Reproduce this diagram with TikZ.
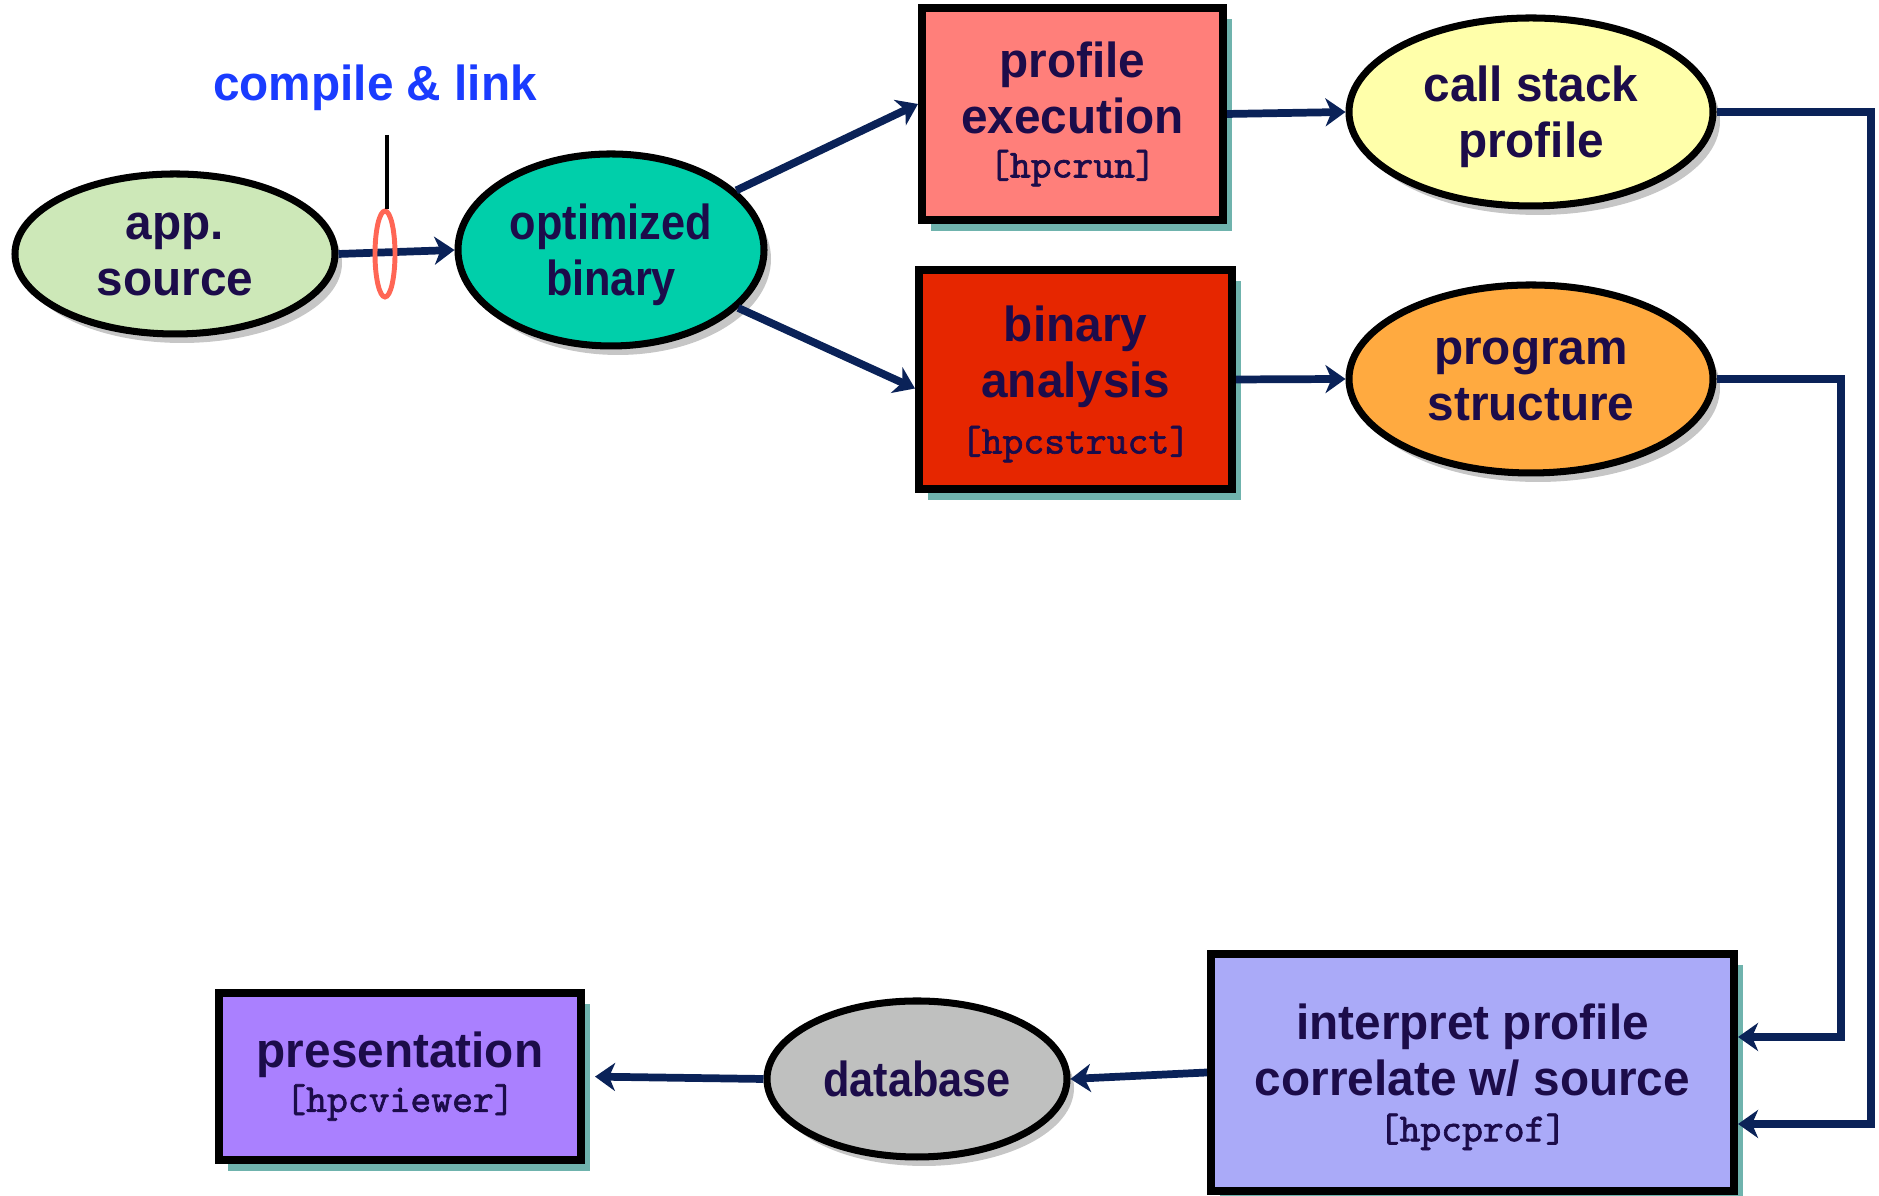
\documentclass[tikz,border=0pt]{standalone}
\usepackage{fontspec}
\setmainfont{Liberation Sans}[FakeStretch=0.97]
\newfontfamily\narrowsans{Liberation Sans}[FakeStretch=0.88]
\setmonofont{lmmono10-regular.otf}[FakeBold=1.6]
\usetikzlibrary{shapes.geometric,shadows,arrows.meta}

\definecolor{ink}{HTML}{1C0C4A}
\definecolor{navy}{HTML}{0A2258}
\definecolor{linkblue}{HTML}{1A3CFF}
\definecolor{ringred}{HTML}{FF6655}
\definecolor{shadowteal}{HTML}{3F9A92}
\definecolor{srcgreen}{HTML}{CDE8B8}
\definecolor{bingreen}{HTML}{00CFAA}
\definecolor{runpink}{HTML}{FF7F7A}
\definecolor{structred}{HTML}{E62600}
\definecolor{cspyellow}{HTML}{FFFFAA}
\definecolor{psorange}{HTML}{FFAA40}
\definecolor{profblue}{HTML}{AAAAF8}
\definecolor{dbgray}{HTML}{BFC0BF}
\definecolor{viewpurple}{HTML}{AA80FF}

\newcommand{\tool}[1]{{\fontsize{11.3}{12}\selectfont\ttfamily #1}}

\tikzset{
  boxtext/.style={font=\fontsize{14}{16}\selectfont\bfseries, text=ink, align=center},
  narrowtext/.style={font=\fontsize{14}{16}\selectfont\narrowsans\bfseries},
  oval/.style={ellipse, draw=black, line width=2pt, inner sep=0pt, boxtext, text depth=0pt,
    drop shadow={fill=black!50, opacity=.45, shadow xshift=0.07cm, shadow yshift=-0.09cm}},
  stage/.style={rectangle, draw=black, line width=2.3pt, inner sep=0pt, boxtext,
    drop shadow={fill=shadowteal, opacity=.75, shadow xshift=0.09cm, shadow yshift=-0.11cm}},
  flow/.style={-{Stealth[length=0.2cm, width=0.28cm, inset=0.06cm]}, navy, line width=2.2pt},
}

\begin{document}
\begin{tikzpicture}
  \useasboundingbox (0,0) rectangle (18.79,11.96);

  % top row
  \node[oval, fill=srcgreen, minimum width=3.2cm, minimum height=1.6cm] (src) at (1.75,9.42) {app.\\source};
  \node[oval, narrowtext, fill=bingreen, minimum width=3.06cm, minimum height=1.92cm] (opt) at (6.11,9.46) {optimized\\binary};
  \node[stage, fill=runpink, minimum width=3.01cm, minimum height=2.12cm] (run) at (10.725,10.82) {profile\\execution\\[-3.5pt]\tool{[hpcrun]}};
  \node[stage, text depth=0pt, fill=structred, minimum width=3.13cm, minimum height=2.19cm] (struct) at (10.755,8.165) {binary\\analysis\\[0pt]\tool{[hpcstruct]}};
  \node[oval, fill=cspyellow, minimum width=3.64cm, minimum height=1.88cm] (csp) at (15.31,10.84) {call stack\\profile};
  \node[oval, fill=psorange, minimum width=3.64cm, minimum height=1.88cm] (ps) at (15.31,8.17) {program\\structure};

  % bottom row
  \node[stage, text depth=0pt, fill=profblue, minimum width=5.23cm, minimum height=2.37cm] (prof) at (14.725,1.235) {interpret profile\\correlate w/ source\\[-3pt]\tool{[hpcprof]}};
  \node[oval, narrowtext, fill=dbgray, minimum width=3.0cm, minimum height=1.56cm] (db) at (9.17,1.17) {database};
  \node[stage, fill=viewpurple, minimum width=3.62cm, minimum height=1.67cm] (view) at (4.0,1.195) {presentation\\[-3.5pt]\tool{[hpcviewer]}};

  % compile & link marker
  \node[font=\fontsize{14}{16}\selectfont\bfseries, text=linkblue] (cl) at (3.75,11.08) {compile \& link};
  \draw[flow] (src.east) -- (opt.west);
  \node[ellipse, draw=ringred, line width=1.4pt, minimum width=0.2cm, minimum height=0.86cm, inner sep=0pt] (ring) at (3.85,9.42) {};
  \coordinate (tick) at (3.87,10.61);
  \draw[black, line width=0.9pt] (tick) -- (tick |- ring.north);

  \draw[flow] (opt) -- ([yshift=0.1cm]run.west);
  \draw[flow] (opt) -- ([yshift=-0.09cm]struct.west);
  \draw[flow] (run.east) -- (csp.west);
  \draw[flow] (struct.east) -- (ps.west);

  \coordinate (csdown) at (18.71,0.72);
  \coordinate (psdown) at (18.41,1.59);
  \draw[flow] (csp.east) -| (csdown) -- (prof.east |- csdown);
  \draw[flow] (ps.east) -| (psdown) -- (prof.east |- psdown);

  \draw[flow] (prof.west) -- (db.east);
  \draw[flow, shorten >=0.1cm] (db.west) -- (view.east);
\end{tikzpicture}
\end{document}
